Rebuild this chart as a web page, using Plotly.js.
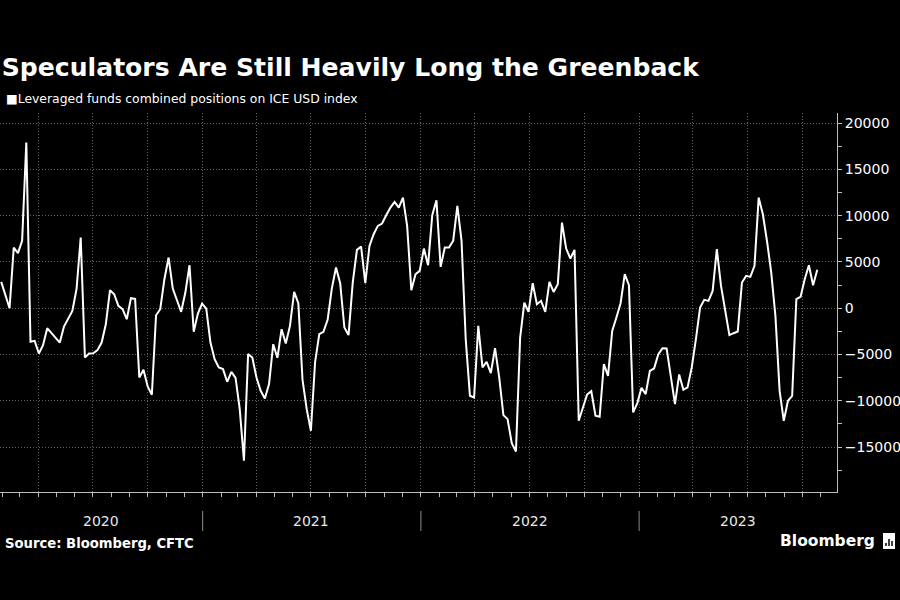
<!DOCTYPE html>
<html>
<head>
<meta charset="utf-8">
<script src="https://cdn.plot.ly/plotly-3.0.1.min.js"></script>
<style>
  html, body { margin: 0; padding: 0; background: #000; }
  #chart { width: 900px; height: 600px; }
</style>
</head>
<body>
<div id="chart"></div>
<script>
// ---- Data ----
const seriesName = "Leveraged funds combined positions on ICE USD index";
const startDate = "2020-01-30";           // date of week 0
const weekIndex = [
  0, 2, 3, 4, 5, 6, 7, 8, 9, 10, 11, 13, 14, 15, 17, 18, 19, 20, 21, 22,
  23, 24, 25, 26, 27, 28, 29, 30, 31, 32, 33, 34, 35, 36, 37, 38, 39, 40, 41, 42,
  43, 44, 45, 46, 47, 48, 49, 50, 51, 52, 53, 54, 55, 56, 57, 58, 59, 60, 61, 62,
  63, 64, 65, 66, 67, 68, 69, 70, 71, 72, 73, 74, 75, 76, 77, 78, 79, 80, 81, 82,
  83, 84, 85, 86, 87, 88, 89, 90, 91, 92, 93, 94, 95, 96, 97, 98, 99, 100, 101, 102,
  103, 104, 105, 106, 107, 108, 109, 110, 111, 112, 113, 114, 115, 116, 117, 118, 119, 120, 121, 122,
  123, 124, 125, 126, 127, 128, 129, 130, 131, 132, 133, 134, 135, 136, 137, 138, 139, 140, 141, 142,
  143, 144, 145, 146, 147, 148, 149, 150, 151, 152, 153, 154, 155, 156, 157, 158, 159, 160, 161, 162,
  163, 164, 165, 166, 167, 168, 169, 170, 171, 172, 173, 174, 175, 176, 177, 178, 179, 180, 181, 182,
  183, 184, 185, 186, 187, 188, 189, 190, 191, 192, 193, 194, 195
];
const positions = [
  2840, 0, 6550, 5940, 7270, 17880, -3630, -3530, -4890, -3990, -2160, -3240, -3710, -1980, -290, 2050, 7630, -5320, -4890, -4860,
  -4530, -3710, -1730, 1940, 1510, 250, -110, -1190, 1080, 1000, -7480, -6650, -8450, -9350, -760, -110, 3130, 5470, 2120, 860,
  -400, 1690, 4640, -2550, -580, 500, -40, -3710, -5500, -6400, -6580, -7950, -6870, -7520, -10900, -16470, -4960, -5320, -7480, -8920,
  -9750, -8200, -3890, -5360, -2270, -3810, -1910, 1760, 540, -7730, -10900, -13240, -5860, -2810, -2550, -1260, 2120, 4390, 2700, -2090,
  -2910, 2770, 6300, 6650, 2700, 6730, 7990, 8890, 9140, 10040, 10860, 11470, 10860, 11940, 8890, 1940, 3670, 4030, 6440, 4640,
  10040, 11650, 4460, 6550, 6550, 7270, 11040, 7270, -3350, -9460, -9640, -1910, -6400, -5790, -7010, -4320, -7480, -11550, -11980, -14570,
  -15470, -3170, 610, -400, 2700, 430, 800, -400, 2840, 1760, 2590, 9240, 6440, 5360, 6300, -12160, -10830, -9320, -8960, -11620,
  -11730, -6040, -7300, -2450, -1010, 540, 3670, 2480, -11260, -10250, -8600, -9280, -6760, -6510, -5000, -4320, -4350, -7300, -10360, -7160,
  -8810, -8560, -6400, -3350, 70, 900, 790, 1870, 6370, 2410, -290, -2910, -2700, -2520, 2770, 3490, 3380, 4570, 11940, 10140,
  7200, 3850, -830, -8920, -12160, -10000, -9460, 970, 1220, 3130, 4640, 2480, 4140
];
const yearLabels = ["2020", "2021", "2022", "2023"];
const xRange = ["2020-01-28", "2023-11-28"];
const yRange = [-19850, 21080];

// ---- Build dates from week indices ----
const DAY = 86400000;
const t0 = Date.parse(startDate + "T00:00:00Z");
const dates = weekIndex.map(k => new Date(t0 + k * 7 * DAY).toISOString().slice(0, 10));

const FONT = "DejaVu Sans, Verdana, sans-serif";
const GRID = "rgba(255,255,255,0.38)";
const AXIS = "#bdbdbd";

// Plot geometry (pixels) used for paper-coordinate conversions
const plotLeft = 0, plotRight = 837;
const plotTop = 113, plotBottom = 492;
const plotH = plotBottom - plotTop, plotW = plotRight - plotLeft;
const py = pix => (plotBottom - pix) / plotH;
const px = pix => (pix - plotLeft) / plotW;

// Year labels centred on the visible part of each year; separators at year starts
const r0 = Date.parse(xRange[0] + "T00:00:00Z"), r1 = Date.parse(xRange[1] + "T00:00:00Z");
const annotations = [];
const shapes = [];
yearLabels.forEach((yr, i) => {
  const ys = Date.parse(yr + "-01-01T00:00:00Z");
  const ye = Date.parse((+yr + 1) + "-01-01T00:00:00Z");
  const a = Math.max(ys, r0), b = Math.min(ye, r1);
  const mid = new Date((a + b) / 2).toISOString().slice(0, 10);
  annotations.push({
    x: mid, xref: "x", y: py(521), yref: "paper", text: yr, showarrow: false,
    xanchor: "center", yanchor: "middle",
    font: { family: FONT, size: 14, color: "#e6e6e6" }
  });
  if (i > 0) {
    shapes.push({
      type: "line", xref: "x", yref: "paper",
      x0: yr + "-01-01", x1: yr + "-01-01", y0: py(511), y1: py(531),
      line: { color: "#8a8a8a", width: 1 }
    });
  }
});

annotations.push({
  x: px(4), xref: "paper", y: py(99), yref: "paper", showarrow: false,
  xanchor: "left", yanchor: "middle",
  text: "■" + seriesName,
  font: { family: FONT, size: 12.4, color: "#ffffff" }
});
annotations.push({
  x: px(3), xref: "paper", y: py(543), yref: "paper", showarrow: false,
  text: "<b>Source: Bloomberg, CFTC</b>", xanchor: "left", yanchor: "middle",
  font: { family: FONT, size: 13.2, color: "#ffffff" }
});
annotations.push({
  x: px(877), xref: "paper", y: py(541), yref: "paper", showarrow: false,
  text: "<b>Bloomberg</b>", xanchor: "right", yanchor: "middle",
  font: { family: FONT, size: 15.5, color: "#ffffff" }
});
// small logo box with bars
shapes.push({
  type: "rect", xref: "paper", yref: "paper",
  x0: px(883), x1: px(895), y0: py(549), y1: py(533),
  fillcolor: "#ffffff", line: { width: 0 }
});
[[886, 543], [889, 539], [892, 541]].forEach(([bx, by]) => {
  shapes.push({
    type: "line", xref: "paper", yref: "paper",
    x0: px(bx), x1: px(bx), y0: py(546), y1: py(by),
    line: { color: "#000000", width: 1.5 }
  });
});

const trace = {
  x: dates, y: positions, type: "scatter", mode: "lines", name: seriesName,
  line: { color: "#ffffff", width: 2 }, hoverinfo: "skip"
};

const layout = {
  width: 900, height: 600,
  paper_bgcolor: "#000000", plot_bgcolor: "#000000",
  margin: { l: plotLeft, r: 900 - plotRight, t: plotTop, b: 600 - plotBottom, pad: 0 },
  showlegend: false,
  title: {
    text: "<b>Speculators Are Still Heavily Long the Greenback</b>",
    x: 0.002, xanchor: "left", xref: "container",
    y: 1 - 67 / 600, yanchor: "middle", yref: "container",
    font: { family: FONT, size: 25.1, color: "#ffffff" }
  },
  xaxis: {
    type: "date", range: xRange,
    tick0: "2020-01-01", dtick: "M3",
    showgrid: true, gridcolor: GRID, griddash: "1px,2px", gridwidth: 1,
    showticklabels: false,
    ticks: "outside", ticklen: 4, tickcolor: AXIS, tickwidth: 1,
    minor: { dtick: "M1", tick0: "2020-01-01", ticks: "outside", ticklen: 4, tickcolor: AXIS, showgrid: false },
    showline: true, linecolor: AXIS, linewidth: 1,
    zeroline: false, fixedrange: true
  },
  yaxis: {
    side: "right", range: yRange,
    tick0: 0, dtick: 5000, tickformat: "d",
    showgrid: true, gridcolor: GRID, griddash: "1px,2px", gridwidth: 1,
    zeroline: false,
    ticks: "outside", ticklen: 4, tickcolor: AXIS, tickwidth: 1,
    minor: { dtick: 2500, tick0: 0, ticks: "outside", ticklen: 4, tickcolor: AXIS, showgrid: false },
    showline: true, linecolor: AXIS, linewidth: 1,
    tickfont: { family: FONT, size: 14, color: "#ffffff" },
    fixedrange: true
  },
  annotations: annotations,
  shapes: shapes
};

Plotly.newPlot("chart", [trace], layout, { displayModeBar: false, staticPlot: true });
</script>
</body>
</html>
